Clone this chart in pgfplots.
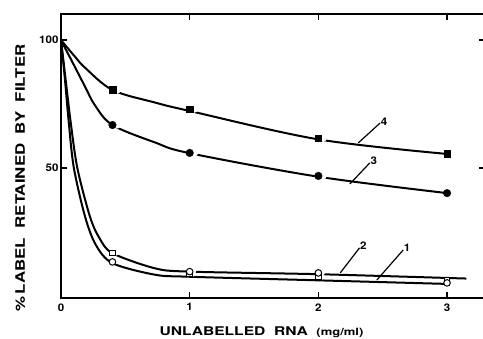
\documentclass[border=0pt]{standalone}
\usepackage{fontspec}
\setmainfont{TeX Gyre Heros}
\newfontfamily\widefont[FakeStretch=1.3]{TeX Gyre Heros}
\newfontfamily\tickfont[FakeStretch=1.1]{TeX Gyre Heros}
\usepackage{pgfplots}
\pgfplotsset{compat=1.18}
\begin{document}
\begin{tikzpicture}[x=1pt,y=1pt]
\begin{axis}[
  scale only axis, width=424pt, height=284pt,
  at={(61pt,41pt)}, anchor=south west,
  xmin=0, xmax=3.295, ymin=-0.8, ymax=110.2,
  axis line style={line width=2pt},
  xtick={0,1,2,3}, ytick={50,100},
  tick align=inside, major tick length=6pt,
  tick style={line width=1.4pt, black},
  /pgf/number format/assume math mode=true,
  ticklabel style={font=\tickfont\fontsize{10.5}{13}\selectfont\bfseries},
  xticklabel style={yshift=-2pt},
  yticklabel style={xshift=1pt},
  clip=false,
]
% curve 4
\addplot[line width=2pt, smooth, tension=0.55] coordinates {(0,100) (0.109,93.5) (0.187,89.2) (0.4,80.5) (0.73,75.6) (1,72.3) (2,61.2) (3,55.5)};
% curve 3
\addplot[line width=2pt, smooth, tension=0.55] coordinates {(0,100) (0.109,89.4) (0.187,81.8) (0.264,74.5) (0.4,66.8) (0.73,60) (1,55.8) (2,46.6) (3,40.2)};
% curve 2
\addplot[line width=2pt, smooth, tension=0.5] coordinates {(0,100) (0.035,85) (0.075,68) (0.127,50) (0.225,31) (0.3,22.5) (0.4,16.7) (0.73,10.8) (1,9.5) (2,8.5) (3.15,6.8)};
% curve 1
\addplot[line width=2pt, smooth, tension=0.5] coordinates {(0,100) (0.03,85) (0.06,68) (0.1,50) (0.187,31) (0.27,20) (0.4,12.8) (0.73,8.3) (1,7.5) (2,6.1) (3,4.7)};
% gaps to the right of the markers
\addplot[only marks, mark=*, mark size=3.2pt, white, mark options={xshift=5pt}] coordinates {(0.4,80.5) (1,73) (2,61.7) (0.4,66.8) (1,55.9) (2,46.9)};
\addplot[only marks, mark=*, mark size=2.2pt, white, mark options={xshift=4pt}] coordinates {(0.4,16.8) (1,8.6) (2,7.4) (0.4,13.5) (1,9.5) (2,9.0)};
% markers
\addplot[only marks, mark=square*, mark size=3.3pt, black] coordinates {(0.4,80.5) (1,73) (2,61.7) (3,55.5)};
\addplot[only marks, mark=*, mark size=3.8pt, black] coordinates {(0.4,66.8) (1,55.9) (2,46.9) (3,40.2)};
\addplot[only marks, mark=square*, mark size=2.8pt, black, fill=white, line width=1pt] coordinates {(0.4,16.8) (1,8.6) (2,7.4) (3,6.2)};
\addplot[only marks, mark=*, mark size=3.3pt, black, fill=white, line width=1pt] coordinates {(0.4,13.3) (1,9.5) (2,9.0) (3,5.1)};
% annotation lines
\draw[line width=1.2pt] (axis cs:2.48,67.6) -- (axis cs:2.31,59.8);
\node[font=\tickfont\fontsize{10.5}{13}\selectfont\bfseries, anchor=south west, inner sep=0.5pt] at (axis cs:2.48,66.5) {4};
\draw[line width=1.2pt] (axis cs:2.40,52) -- (axis cs:2.245,43.8);
\node[font=\tickfont\fontsize{10.5}{13}\selectfont\bfseries, anchor=south west, inner sep=0.5pt] at (axis cs:2.40,51) {3};
\draw[line width=1.2pt] (axis cs:2.32,18.8) -- (axis cs:2.17,9);
\node[font=\tickfont\fontsize{10.5}{13}\selectfont\bfseries, anchor=south west, inner sep=0.5pt] at (axis cs:2.32,17.8) {2};
\draw[line width=1.2pt] (axis cs:2.66,18) -- (axis cs:2.455,6.25);
\node[font=\tickfont\fontsize{10.5}{13}\selectfont\bfseries, anchor=south west, inner sep=0.5pt] at (axis cs:2.66,17) {1};
\end{axis}
\node[font=\widefont\fontsize{13}{16}\selectfont\bfseries, rotate=90, anchor=base, inner sep=0pt] at (25pt,161pt) {\%\,LABEL\ \ RETAINED\ \ BY\ \ FILTER};
\node[font=\widefont\fontsize{12}{14}\selectfont\bfseries, anchor=base, inner sep=0pt] at (261.5pt,3pt) {UNLABELLED\ \ RNA\ \ {\fontsize{10}{12}\selectfont(mg/ml)}};
\pgfresetboundingbox
\path (0pt,0pt) rectangle (483pt,339pt);
\end{tikzpicture}
\end{document}
